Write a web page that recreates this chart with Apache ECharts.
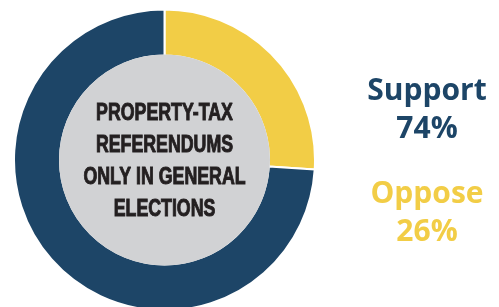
<!DOCTYPE html>
<html>
<head>
<meta charset="utf-8">
<style>
    html, body { margin: 0; padding: 0; background: #fff; }
    #chart { width: 499px; height: 307px; }
</style>
<script src="https://cdn.jsdelivr.net/npm/echarts@6/dist/echarts.min.js"></script>
</head>
<body>
<div id="chart"></div>
<script>
const categories = ['Oppose', 'Support'];
const values = [26, 74];
const colors = ['#f2cd46', '#1d4567'];
const centerLines = ['PROPERTY-TAX', 'REFERENDUMS', 'ONLY IN GENERAL', 'ELECTIONS'];

const chart = echarts.init(document.getElementById('chart'));

const center = [164.5, 160];

const option = {
    animation: false,
    graphic: [
        {
            // condensed look: squeeze a bold sans horizontally
            type: 'text',
            x: center[0],
            y: center[1] + 1,
            scaleX: 0.74,
            z: 10,
            style: {
                text: centerLines.join('\n'),
                x: 0,
                y: 0,
                align: 'center',
                verticalAlign: 'middle',
                font: 'bold 24px "Liberation Sans", Arial, sans-serif',
                lineHeight: 32,
                fill: '#231f20',
                stroke: '#231f20',
                lineWidth: 1,
            },
        },
        // right-hand labels, one per slice (Support on top)
        ...categories
            .map((name, i) => ({ name, value: values[i], color: colors[i] }))
            .reverse()
            .map((item, i) => ({
                type: 'text',
                z: 10,
                style: {
                    text: item.name + '\n' + item.value + '%',
                    x: 427,
                    y: 110 + i * 103,
                    align: 'center',
                    verticalAlign: 'middle',
                    font: 'bold 30px "Open Sans", sans-serif',
                    lineHeight: 38,
                    fill: item.color,
                },
            })),
    ],
    series: [
        {
            type: 'pie',
            silent: true,
            z: 3,
            center: center,
            radius: [0, 105.5],
            label: { show: false },
            labelLine: { show: false },
            itemStyle: { borderWidth: 0 },
            data: [{ value: 1, itemStyle: { color: '#d1d2d4' } }],
        },
        {
            type: 'pie',
            silent: true,
            z: 2,
            center: center,
            radius: [104.5, 150.5],
            startAngle: 90,
            clockwise: true,
            label: { show: false },
            labelLine: { show: false },
            itemStyle: { borderColor: '#fff', borderWidth: 2 },
            data: categories.map((name, i) => ({
                name,
                value: values[i],
                itemStyle: { color: colors[i] },
            })),
        },
    ],
};

chart.setOption(option);
</script>
</body>
</html>
